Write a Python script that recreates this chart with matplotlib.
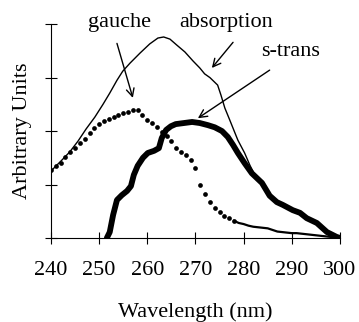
import matplotlib
matplotlib.use("Agg")
import matplotlib.pyplot as plt
import numpy as np

# ---- data ----
gauche_x = list(range(240, 301))
gauche_y = [1.27, 1.34, 1.41, 1.51, 1.60, 1.68, 1.78, 1.86, 1.97, 2.06,
            2.14, 2.18, 2.23, 2.27, 2.30, 2.33, 2.36, 2.39, 2.39, 2.30,
            2.21, 2.15, 2.07, 1.98, 1.90, 1.81, 1.68, 1.61, 1.55, 1.45,
            1.30, 1.00, 0.82, 0.67, 0.56, 0.48, 0.41, 0.37, 0.32, 0.28,
            0.26, 0.23, 0.21, 0.20, 0.19, 0.18, 0.15, 0.12, 0.11, 0.10,
            0.09, 0.09, 0.08, 0.07, 0.06, 0.05, 0.04, 0.03, 0.02, 0.02, 0.01]

strans_x = [251.6, 252.2, 252.9, 253.7, 254.7, 255.8, 256.6, 257.2, 258.0, 259.1,
            260.1, 261.4, 262.4, 263.0, 263.9, 264.9, 265.9, 267.6, 269.3, 270.9,
            272.6, 274.0, 275.5, 276.7, 277.8, 278.8, 280.2, 281.7, 283.8, 285.4,
            286.9, 288.1, 290.2, 291.7, 293.1, 295.2, 297.3, 299.3, 300.0]
strans_y = [0.00, 0.11, 0.43, 0.71, 0.80, 0.88, 0.97, 1.18, 1.35, 1.50,
            1.59, 1.63, 1.68, 1.87, 2.02, 2.09, 2.13, 2.15, 2.17, 2.15,
            2.11, 2.07, 2.00, 1.89, 1.74, 1.59, 1.40, 1.21, 1.03, 0.79,
            0.67, 0.62, 0.52, 0.47, 0.37, 0.28, 0.11, 0.02, 0.00]

abs_x = [240.2, 242.3, 243.9, 245.6, 247.3, 249.1, 250.8, 252.2, 253.7, 254.9,
         256.4, 258.5, 260.5, 262.2, 263.4, 264.7, 266.1, 267.8, 269.5, 270.9,
         271.9, 273.0, 274.6, 275.3, 276.1, 277.1, 278.8, 280.2, 281.3, 282.3,
         283.8, 285.4, 286.9, 288.1, 290.2, 291.7, 293.1, 295.2, 297.3, 299.3, 300.0]
abs_y = [1.27, 1.46, 1.61, 1.81, 2.04, 2.26, 2.50, 2.71, 2.95, 3.12,
         3.27, 3.46, 3.63, 3.74, 3.76, 3.72, 3.61, 3.48, 3.31, 3.18,
         3.07, 3.00, 2.86, 2.67, 2.43, 2.21, 1.83, 1.59, 1.36, 1.18,
         1.03, 0.79, 0.67, 0.62, 0.52, 0.47, 0.37, 0.28, 0.11, 0.02, 0.00]

x_ticks = [240, 250, 260, 270, 280, 290, 300]
y_ticks = [0, 1, 2, 3, 4]

plt.rcParams['font.family'] = ['Liberation Serif', 'DejaVu Serif']

fig = plt.figure(figsize=(3.59, 3.22), dpi=100)
ax = fig.add_axes([0.142, 0.261, 0.805, 0.664])

ax.plot(abs_x, abs_y, color='black', lw=1.0, zorder=2)
ax.plot(strans_x, strans_y, color='black', lw=4.2, solid_capstyle='round',
        solid_joinstyle='round', zorder=3)
gx = np.array(gauche_x); gy = np.array(gauche_y)
m = gx <= 278
ax.plot(gx[m], gy[m], linestyle='none', marker='o', markersize=3.4,
        color='black', markeredgewidth=0, zorder=4)
t = gx >= 278
ax.plot(gx[t], gy[t], color='black', lw=1.6, zorder=4)

ax.set_xlim(240, 300)
ax.set_ylim(0, 4)
ax.set_xticks(x_ticks)
ax.set_xticklabels([str(v) for v in x_ticks])
ax.set_yticks(y_ticks)
ax.set_yticklabels([])
ax.tick_params(axis='both', direction='inout', length=9, width=0.8, color='black')
ax.tick_params(axis='x', labelsize=16, pad=12)
for s in ['top', 'right']:
    ax.spines[s].set_visible(False)
for s in ['left', 'bottom']:
    ax.spines[s].set_linewidth(0.8)

ax.set_xlabel('Wavelength (nm)', fontsize=16, labelpad=16)
ax.set_ylabel('Arbitrary Units', fontsize=16, labelpad=6)

arrow = dict(arrowstyle='->', lw=1.0, color='black',
             mutation_scale=14, shrinkA=0, shrinkB=0)
ax.text(254.3, 4.04, 'gauche', fontsize=16, ha='center', va='center')
ax.text(276.3, 4.04, 'absorption', fontsize=16, ha='center', va='center')
ax.text(289.8, 3.48, 's-trans', fontsize=16, ha='center', va='center')
ax.annotate('', xy=(257.0, 2.62), xytext=(253.7, 3.64), arrowprops=arrow,
            annotation_clip=False)
ax.annotate('', xy=(273.4, 3.18), xytext=(277.8, 3.66), arrowprops=arrow,
            annotation_clip=False)
ax.annotate('', xy=(270.5, 2.24), xytext=(285.4, 3.14), arrowprops=arrow,
            annotation_clip=False)

fig.savefig('out.png', dpi=100)
